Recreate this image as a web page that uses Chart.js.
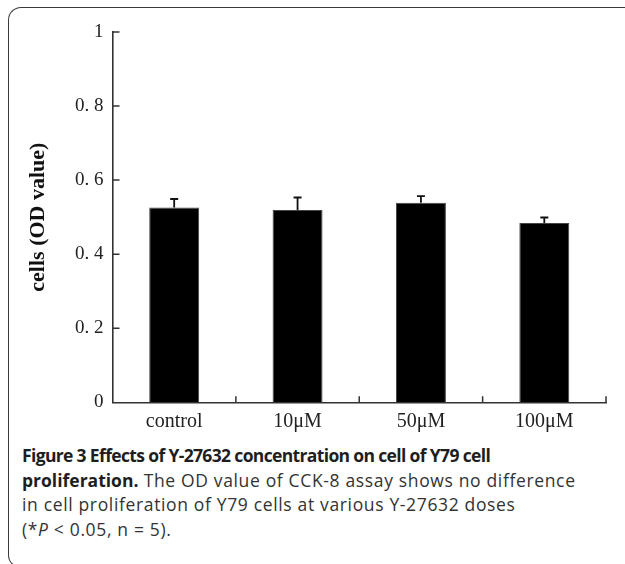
<!DOCTYPE html>
<html>
<head>
<meta charset="utf-8">
<script src="https://cdn.jsdelivr.net/npm/chart.js@4"></script>
<style>
  html, body { margin: 0; padding: 0; background: #fff; }
  body { width: 625px; height: 564px; position: relative; overflow: hidden; }
  #frame {
    position: absolute; left: 8px; top: 7px; width: 700px; height: 559px;
    border: 1.6px solid #3a3a3a; border-right: none;
    border-radius: 13px 0 0 13px;
  }
  #wrap { position: absolute; left: 0; top: 0; width: 625px; height: 440px; }
  #caption {
    position: absolute; left: 22px; top: 443px; width: 600px;
    font-family: "Open Sans", sans-serif; font-size: 17.5px; line-height: 24.7px;
    font-weight: 400; letter-spacing: 0.65px;
    color: #333; white-space: nowrap;
  }
  #caption b { font-weight: 700; color: #1e1e1e; letter-spacing: -0.65px; }
  #caption b.lead { letter-spacing: 0; }
</style>
</head>
<body>
<div id="frame"></div>
<div id="wrap"><canvas id="odChart" width="625" height="440"></canvas></div>
<div id="caption">
  <b>Figure 3 Effects of Y-27632 concentration on cell of Y79 cell</b><br>
  <b class="lead">proliferation.</b> The OD value of CCK-8 assay shows no difference<br>
  in cell proliferation of Y79 cells at various Y-27632 doses<br>
  (*<i>P</i> &lt; 0.05, n = 5).
</div>
<script>
var categories = ['control', '10\u03bcM', '50\u03bcM', '100\u03bcM'];
var odMeans = [0.526, 0.519, 0.539, 0.484];
var odErrors = [0.023, 0.034, 0.018, 0.015];
var yTickLabels = ['0', '0. 2', '0. 4', '0. 6', '0. 8', '1'];

var axisColor = '#333';
var serif = '"Liberation Serif", "Times New Roman", serif';

// error caps (upper only) and inward tick marks
var extras = {
    id: 'extras',
    afterDatasetsDraw: function(chart) {
        var ctx = chart.ctx;
        var y = chart.scales.y;
        var bars = chart.getDatasetMeta(0).data;
        ctx.save();
        ctx.strokeStyle = '#111';
        ctx.lineWidth = 1.8;
        bars.forEach(function(bar, i) {
            var top = y.getPixelForValue(odMeans[i] + odErrors[i]);
            ctx.beginPath();
            ctx.moveTo(bar.x, bar.y);
            ctx.lineTo(bar.x, top);
            ctx.moveTo(bar.x - 4, top);
            ctx.lineTo(bar.x + 4, top);
            ctx.stroke();
        });
        ctx.restore();
    },
    afterDraw: function(chart) {
        var ctx = chart.ctx;
        var x = chart.scales.x, y = chart.scales.y;
        var area = chart.chartArea;
        ctx.save();
        ctx.strokeStyle = axisColor;
        ctx.lineWidth = 1.5;
        ctx.beginPath();
        y.ticks.forEach(function(t) {
            if (t.value === 0) return;
            var py = y.getPixelForValue(t.value);
            ctx.moveTo(area.left, py);
            ctx.lineTo(area.left + 7, py);
        });
        var step = x.getPixelForValue(1) - x.getPixelForValue(0);
        categories.forEach(function(c, i) {
            var px = x.getPixelForValue(i) + step / 2;
            ctx.moveTo(px, area.bottom);
            ctx.lineTo(px, area.bottom - 6);
        });
        ctx.stroke();
        ctx.restore();
    }
};

var ctx = document.getElementById('odChart').getContext('2d');
var odChart = new Chart(ctx, {
    type: 'bar',
    data: {
        labels: categories,
        datasets: [{
            label: 'OD value',
            data: odMeans,
            backgroundColor: '#000',
            borderColor: '#444',
            borderWidth: 1,
            barPercentage: 0.405,
            categoryPercentage: 1
        }]
    },
    options: {
        responsive: false,
        animation: false,
        events: [],
        layout: { padding: { top: 32, right: 19, bottom: 0, left: 0 } },
        plugins: {
            legend: { display: false },
            tooltip: { enabled: false }
        },
        scales: {
            x: {
                grid: { display: false, drawTicks: false },
                border: { display: true, color: axisColor, width: 1.6 },
                ticks: {
                    padding: 7,
                    color: '#222',
                    font: { family: serif, size: 20 }
                },
                afterFit: function(scale) { scale.height = 37.7; }
            },
            y: {
                min: 0,
                max: 1,
                grid: { display: false, drawTicks: false },
                border: { display: true, color: axisColor, width: 1.6 },
                ticks: {
                    stepSize: 0.2,
                    padding: 9,
                    color: '#222',
                    font: { family: serif, size: 19 },
                    callback: function(v, i) { return yTickLabels[i]; }
                },
                title: {
                    display: true,
                    text: 'cells (OD value)',
                    color: '#111',
                    font: { family: serif, size: 22, weight: 'bold' },
                    padding: { top: 25, bottom: 0 }
                },
                afterFit: function(scale) { scale.width = 112.5; }
            }
        }
    },
    plugins: [extras]
});
</script>
</body>
</html>
